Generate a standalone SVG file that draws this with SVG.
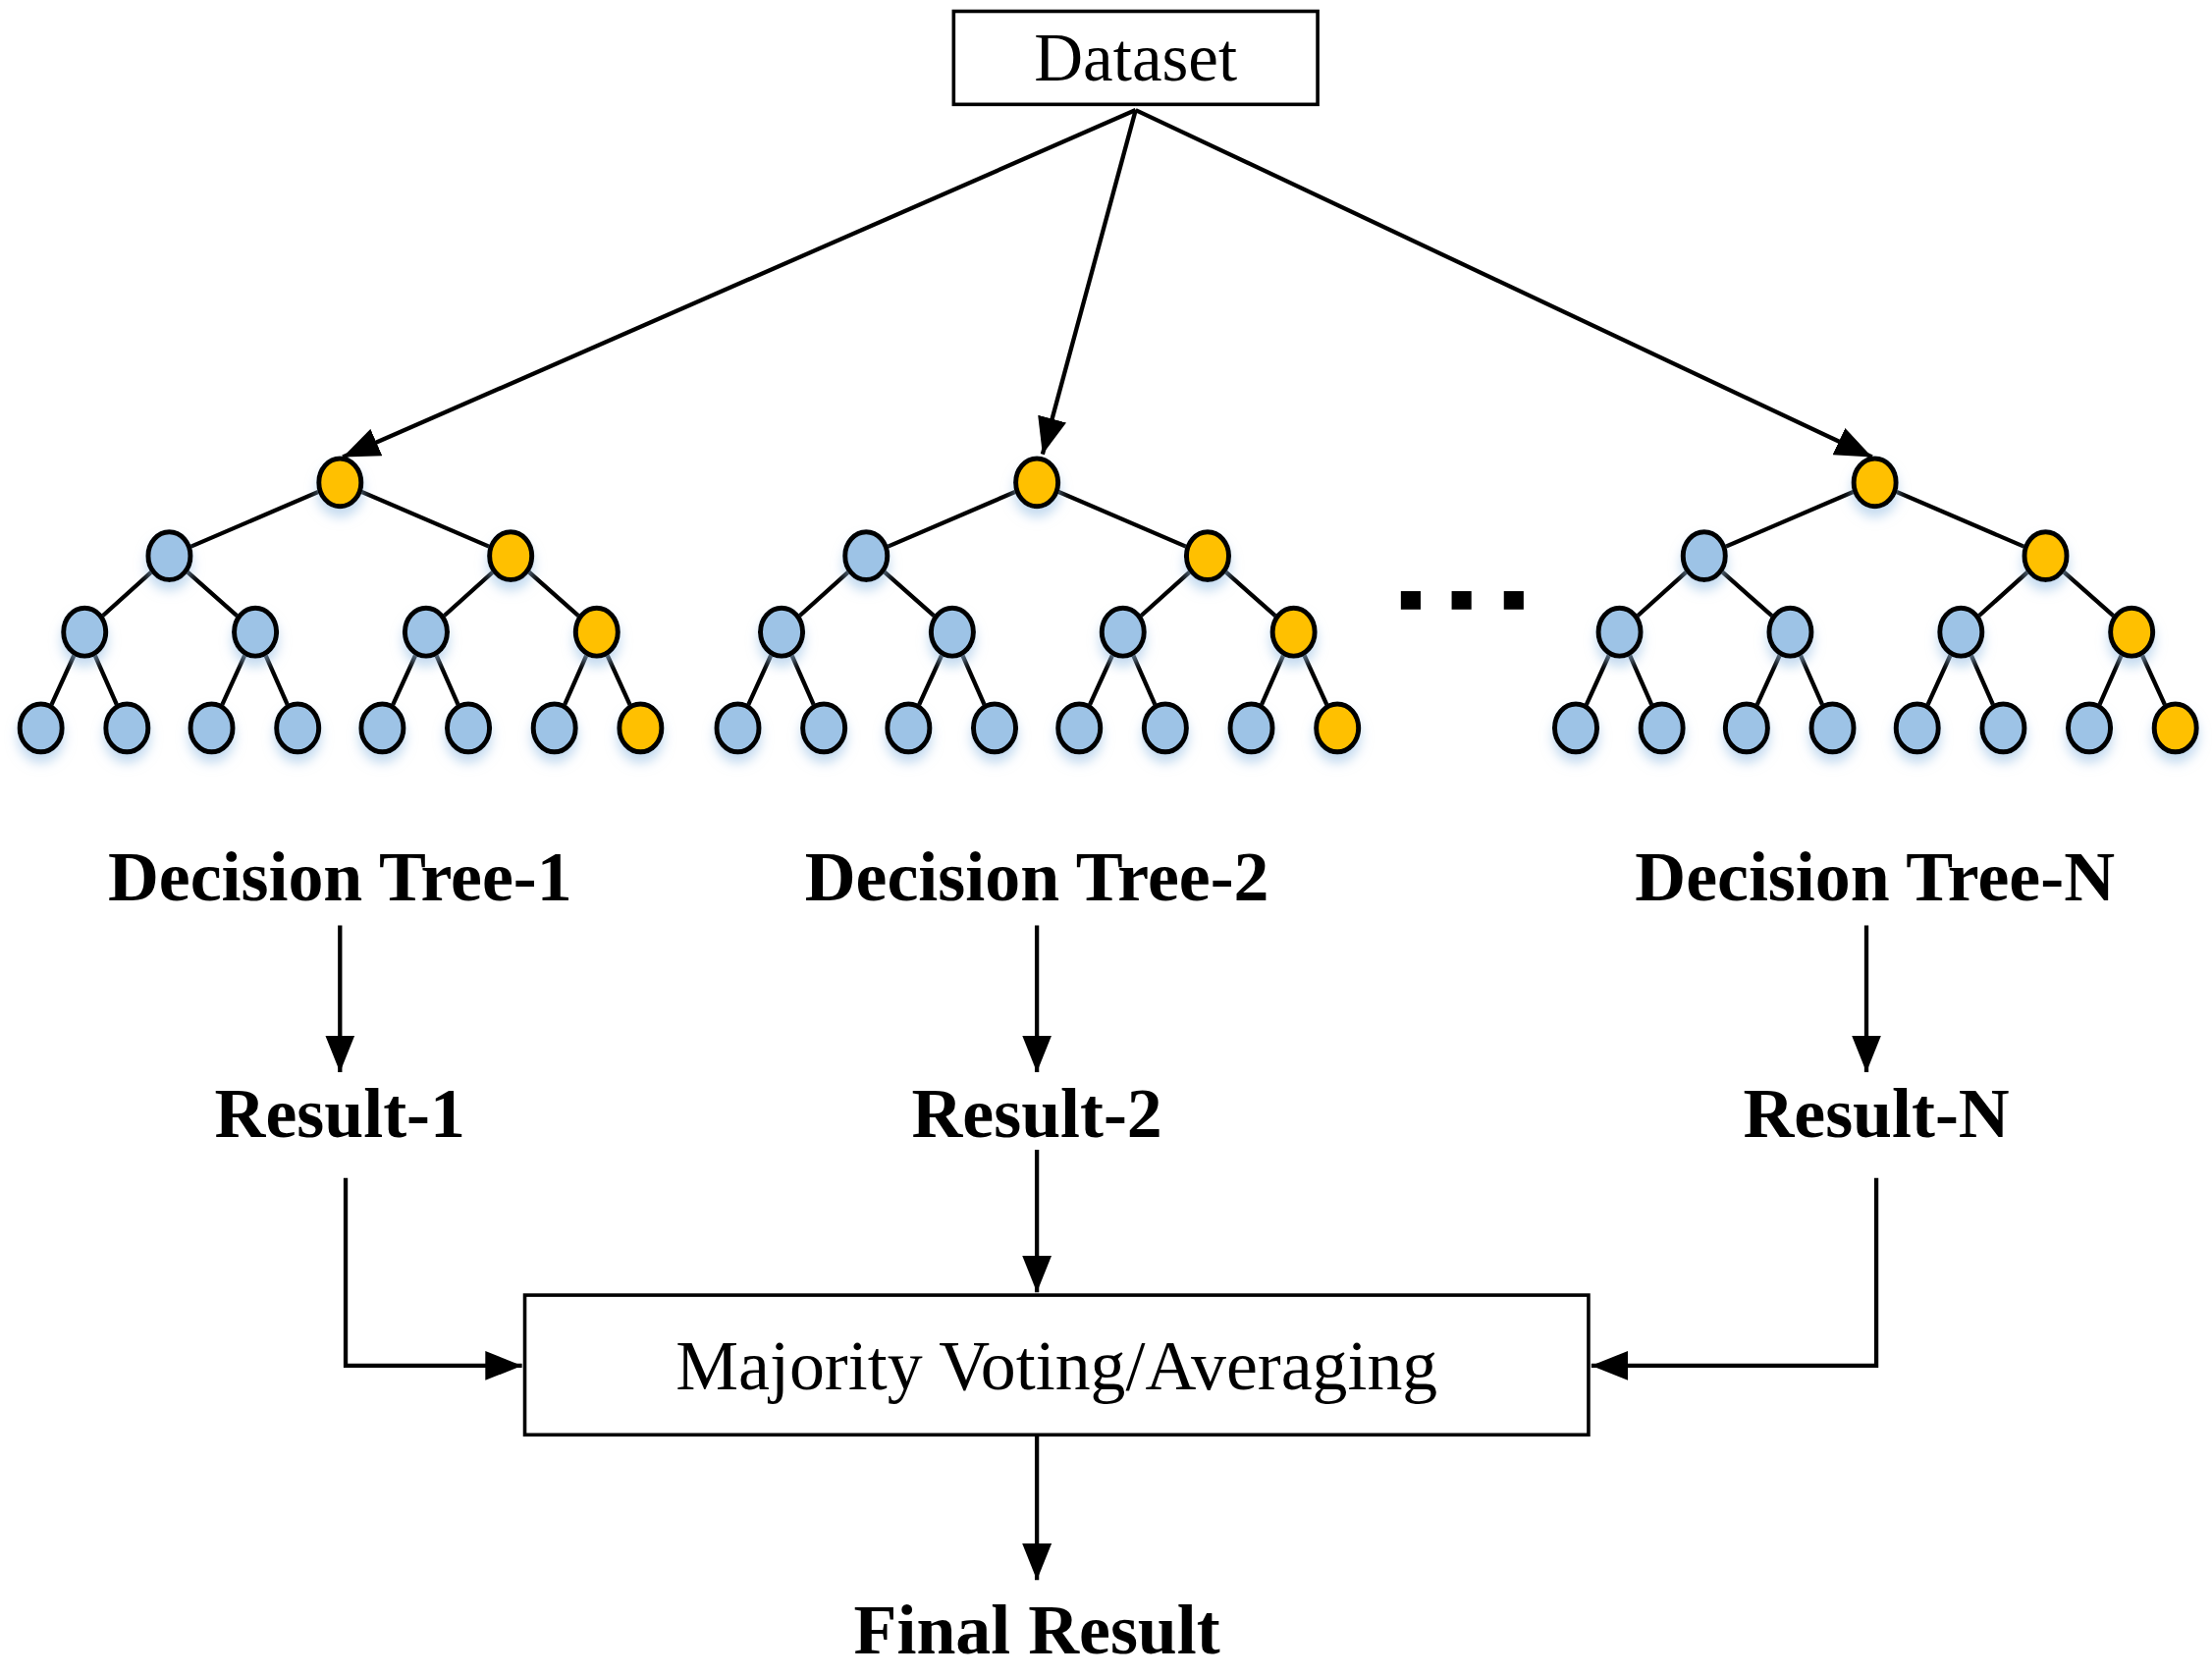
<svg xmlns="http://www.w3.org/2000/svg" width="2253" height="1708" viewBox="0 0 2253 1708">
<style>
.l{stroke:#000;stroke-width:3;fill:none}
.b{fill:#9dc3e6;stroke:#000;stroke-width:3.5}
.o{fill:#ffc000;stroke:#000;stroke-width:3.5}
.t{font-family:"Liberation Serif",serif;text-anchor:middle;fill:#000}
.bd{font-weight:bold;font-size:50px}
</style>
<defs>
<marker id="a" markerWidth="10" markerHeight="8" refX="10" refY="4" orient="auto" markerUnits="userSpaceOnUse" viewBox="0 0 10 8"><path d="M0,0L10,4L0,8z"/></marker>
<marker id="A" viewBox="0 0 10 8" refX="10" refY="4" markerWidth="26" markerHeight="21" orient="auto" markerUnits="userSpaceOnUse"><path d="M0,0L10,4L0,8z"/></marker>
<filter id="sh" x="-50%" y="-50%" width="200%" height="220%"><feDropShadow dx="0" dy="6" stdDeviation="4" flood-color="#9dc3e6" flood-opacity="0.6"/></filter>
<g id="tree">
<path class="l" d="M0,0L-121,52M0,0L121,52M-121,52L-181,106M-121,52L-60,106M121,52L61,106M121,52L182,106M-181,106L-212,174M-181,106L-151,174M-60,106L-91,174M-60,106L-30,174M61,106L30,174M61,106L91,174M182,106L152,174M182,106L213,174"/>
<g filter="url(#sh)">
<ellipse class="o" cx="0" cy="0" rx="15" ry="17"/>
<ellipse class="b" cx="-121" cy="52" rx="15" ry="17"/>
<ellipse class="o" cx="121" cy="52" rx="15" ry="17"/>
<ellipse class="b" cx="-181" cy="106" rx="15" ry="17"/>
<ellipse class="b" cx="-60" cy="106" rx="15" ry="17"/>
<ellipse class="b" cx="61" cy="106" rx="15" ry="17"/>
<ellipse class="o" cx="182" cy="106" rx="15" ry="17"/>
<ellipse class="b" cx="-212" cy="174" rx="15" ry="17"/>
<ellipse class="b" cx="-151" cy="174" rx="15" ry="17"/>
<ellipse class="b" cx="-91" cy="174" rx="15" ry="17"/>
<ellipse class="b" cx="-30" cy="174" rx="15" ry="17"/>
<ellipse class="b" cx="30" cy="174" rx="15" ry="17"/>
<ellipse class="b" cx="91" cy="174" rx="15" ry="17"/>
<ellipse class="b" cx="152" cy="174" rx="15" ry="17"/>
<ellipse class="o" cx="213" cy="174" rx="15" ry="17"/>
</g>
</g>
</defs>
<rect width="2253" height="1708" fill="#fff"/>
<g transform="scale(1.4369)">
<g id="dataset"><rect x="676" y="8" width="258" height="66" fill="#fff" stroke="#000" stroke-width="2.5"/><text class="t" x="805" y="57" font-size="48">Dataset</text></g>
<g id="tree1"><use href="#tree" x="241" y="342"/><text class="t bd" x="241" y="638">Decision Tree-1</text></g>
<g id="tree2"><use href="#tree" x="735" y="342"/><text class="t bd" x="735" y="638">Decision Tree-2</text></g>
<g id="treeN"><use href="#tree" x="1329" y="342"/><text class="t bd" x="1329" y="638">Decision Tree-N</text></g>
<g id="dots"><rect x="993" y="419" width="14" height="13"/><rect x="1029" y="419" width="14" height="13"/><rect x="1066" y="419" width="14" height="13"/></g>
<g id="r1"><text class="t bd" x="241" y="806">Result-1</text></g>
<g id="r2"><text class="t bd" x="735" y="806">Result-2</text></g>
<g id="rN"><text class="t bd" x="1330" y="806">Result-N</text></g>
<g id="vote"><rect x="372" y="918" width="754" height="99" fill="#fff" stroke="#000" stroke-width="2.5"/><text class="t" x="749" y="985" font-size="50">Majority Voting/Averaging</text></g>
<g id="final"><text class="t bd" x="735" y="1172">Final Result</text></g>
<g id="connectors" class="l" stroke-width="2.5">
<path d="M805,78L243,324" marker-end="url(#A)"/>
<path d="M805,78L739,322" marker-end="url(#A)"/>
<path d="M805,78L1327,324" marker-end="url(#A)"/>
<path d="M241,656V760" marker-end="url(#A)"/>
<path d="M735,656V760" marker-end="url(#A)"/>
<path d="M1323,656V760" marker-end="url(#A)"/>
<path d="M245,835V968H370" marker-end="url(#A)"/>
<path d="M735,815V916" marker-end="url(#A)"/>
<path d="M1330,835V968H1128" marker-end="url(#A)"/>
<path d="M735,1017V1120" marker-end="url(#A)"/>
</g>
</g>
</svg>
